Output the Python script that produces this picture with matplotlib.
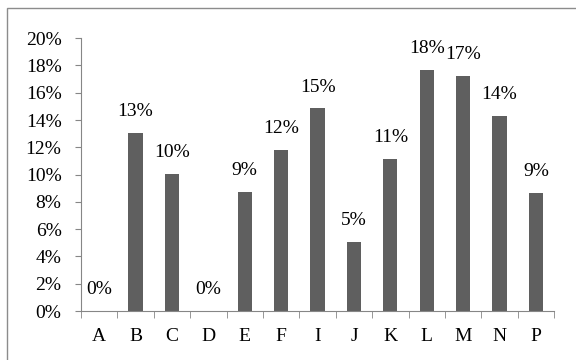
import numpy as np
import matplotlib.pyplot as plt
from matplotlib.patches import Rectangle
from matplotlib.ticker import PercentFormatter

# datos
categorias = ['A', 'B', 'C', 'D', 'E', 'F', 'I', 'J', 'K', 'L', 'M', 'N', 'P']
valores = [0.0, 13.05, 10.04, 0.0, 8.74, 11.8, 14.85, 5.05, 11.14, 17.66, 17.24, 14.31, 8.64]

plt.rcParams['font.family'] = ['Liberation Serif', 'DejaVu Serif']

fig = plt.figure(figsize=(5.76, 3.6), dpi=100)
ax = fig.add_axes([0.1406, 0.136, 0.8214, 0.758])

# marco exterior del grafico
fig.patches.append(Rectangle((7 / 576, -0.05), 1.2, 1 - 8 / 360 + 0.05,
                             transform=fig.transFigure, fill=False,
                             edgecolor='#8c8c8c', linewidth=1.0))

x = np.arange(len(categorias))
ax.bar(x, valores, width=0.39, color='#5f5f5f')

for xi, v in zip(x, valores):
    ax.annotate(f'{v:.0f}%', (xi, v), xytext=(0, 12), textcoords='offset points',
                ha='center', va='baseline', fontsize=14)

ax.set_xlim(-0.5, len(categorias) - 0.5)
ax.set_ylim(0, 20)
ax.set_yticks(np.arange(0, 21, 2))
ax.yaxis.set_major_formatter(PercentFormatter(decimals=0))
ax.set_xticks(x)
ax.set_xticklabels(categorias)
ax.set_xticks(np.arange(-0.5, len(categorias), 1), minor=True)

ax.tick_params(axis='y', length=4, color='#868686', labelsize=14, pad=10)
ax.tick_params(axis='x', which='major', length=0, labelsize=14, pad=12)
ax.tick_params(axis='x', which='minor', length=5, color='#868686')

for lado in ['top', 'right']:
    ax.spines[lado].set_visible(False)
for lado in ['left', 'bottom']:
    ax.spines[lado].set_color('#868686')

fig.savefig('out.png', dpi=100)
